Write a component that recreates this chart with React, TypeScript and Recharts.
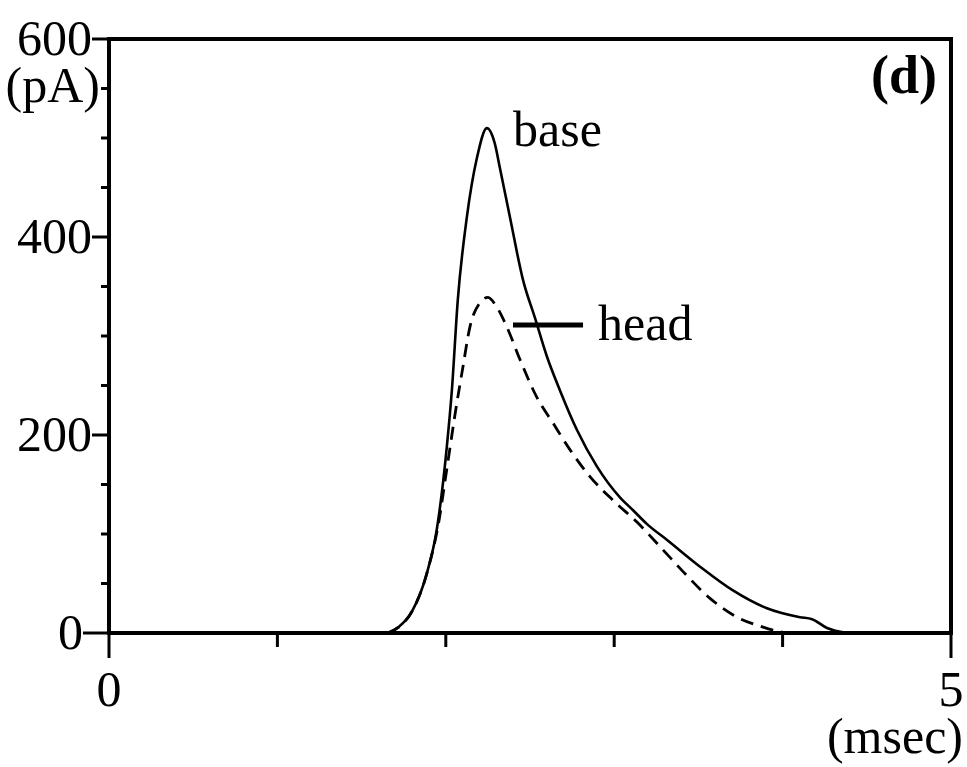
import React from 'react';
import {
  LineChart,
  Line,
  XAxis,
  YAxis,
  ReferenceArea,
  ReferenceLine,
  ReferenceDot,
} from 'recharts';

// ── data (time in msec, current in pA) ──
const baseTime = [
  1.655, 1.72, 1.8, 1.887, 1.946, 2.006, 2.036, 2.071, 2.125, 2.185, 2.244, 2.29, 2.321, 2.381,
  2.458, 2.53, 2.601, 2.678, 2.779, 2.898, 3.034, 3.112, 3.195, 3.314, 3.51, 3.705, 3.907, 4.103,
  4.175, 4.264, 4.38,
];
const baseCurrent = [
  0, 6, 22, 60, 104, 188, 245, 336, 420, 480, 510, 495, 470, 420, 357, 318, 279, 245, 205, 168,
  137, 124, 110, 94, 67, 43, 25, 16, 14, 5, 0,
];

const headTime = [
  1.655, 1.72, 1.8, 1.887, 1.964, 1.994, 2.024, 2.054, 2.101, 2.143, 2.2, 2.25, 2.3, 2.363, 2.441,
  2.541, 2.637, 2.738, 2.856, 2.993, 3.135, 3.29, 3.409, 3.569, 3.729, 3.884, 3.943, 4.02,
];
const headCurrent = [
  0, 6, 22, 60, 118, 152, 186, 220, 268, 309, 333, 339, 330, 309, 276, 238, 212, 185, 158, 134,
  112, 84, 62, 35, 16, 6, 3, 0,
];

const xTicks = [0, 1, 2, 3, 4, 5];
const xLabelled = [0, 5];
const yTicks = [0, 50, 100, 150, 200, 250, 300, 350, 400, 450, 500, 550, 600];
const yLabelled = [0, 200, 400, 600];
const yUnitTick = 550;

const baseData = baseTime.map((t, i) => ({ time: t, current: baseCurrent[i] }));
const headData = headTime.map((t, i) => ({ time: t, current: headCurrent[i] }));

const FONT = '"Liberation Serif", "Times New Roman", serif';
const FS = 50;

const YTick = ({ x, y, payload }: any) => {
  const v = payload.value;
  const major = yLabelled.includes(v);
  const len = v === 0 ? 26 : major ? 17 : 8;
  return (
    <g>
      <line x1={x - len} x2={x} y1={y} y2={y} stroke="#000" strokeWidth={3} />
      {major && (
        <text x={x - len} y={y + 16} textAnchor="end" fontFamily={FONT} fontSize={FS} fill="#000">
          {v}
        </text>
      )}
      {v === yUnitTick && (
        <text x={x - 9} y={y + 13} textAnchor="end" fontFamily={FONT} fontSize={FS} fill="#000">
          (pA)
        </text>
      )}
    </g>
  );
};

const XTick = ({ x, y, payload }: any) => {
  const v = payload.value;
  const major = xLabelled.includes(v);
  return (
    <g>
      <line x1={x} x2={x} y1={y} y2={y + (major ? 25 : 14)} stroke="#000" strokeWidth={3} />
      {major && (
        <text x={x} y={y + 73} textAnchor="middle" fontFamily={FONT} fontSize={FS} fill="#000">
          {v}
        </text>
      )}
      {v === 5 && (
        <text x={x + 12} y={y + 120} textAnchor="end" fontFamily={FONT} fontSize={FS} fill="#000">
          (msec)
        </text>
      )}
    </g>
  );
};

const textShape = (label: string, anchor: string, bold = false, size = FS) => (p: any) => (
  <text
    x={p.cx}
    y={p.cy}
    textAnchor={anchor}
    fontFamily={FONT}
    fontSize={size}
    fontWeight={bold ? 'bold' : 'normal'}
    fill="#000"
  >
    {label}
  </text>
);

export default function App() {
  return (
    <div style={{ position: 'absolute', left: 0, top: 0, width: 967, height: 767, background: '#fff' }}>
      <LineChart width={967} height={767} margin={{ top: 39, right: 16, left: 9, bottom: 34 }}>
        <XAxis
          dataKey="time"
          type="number"
          domain={[0, 5]}
          ticks={xTicks}
          axisLine={false}
          tickLine={false}
          tickSize={0}
          tickMargin={0}
          height={100}
          tick={<XTick />}
          allowDataOverflow
        />
        <YAxis
          dataKey="current"
          type="number"
          domain={[0, 600]}
          ticks={yTicks}
          axisLine={false}
          tickLine={false}
          tickSize={0}
          tickMargin={0}
          width={100}
          tick={<YTick />}
          interval={0}
          allowDataOverflow
        />
        <ReferenceArea x1={0} x2={5} y1={0} y2={600} fill="none" stroke="#000" strokeWidth={4} />
        <Line
          data={baseData}
          dataKey="current"
          type="monotone"
          stroke="#000"
          strokeWidth={2.6}
          dot={false}
          activeDot={false}
          isAnimationActive={false}
        />
        <Line
          data={headData}
          dataKey="current"
          type="monotone"
          stroke="#000"
          strokeWidth={2.8}
          strokeDasharray="13 8"
          dot={false}
          activeDot={false}
          isAnimationActive={false}
        />
        {/* leader line for the head trace */}
        <ReferenceLine
          segment={[
            { x: 2.399, y: 311 },
            { x: 2.815, y: 311 },
          ]}
          stroke="#000"
          strokeWidth={5}
        />
        <ReferenceDot x={2.399} y={492} r={0} shape={textShape('base', 'start')} />
        <ReferenceDot x={2.904} y={296} r={0} shape={textShape('head', 'start')} />
        <ReferenceDot x={4.917} y={545} r={0} shape={textShape('(d)', 'end', true, 54)} />
      </LineChart>
    </div>
  );
}
